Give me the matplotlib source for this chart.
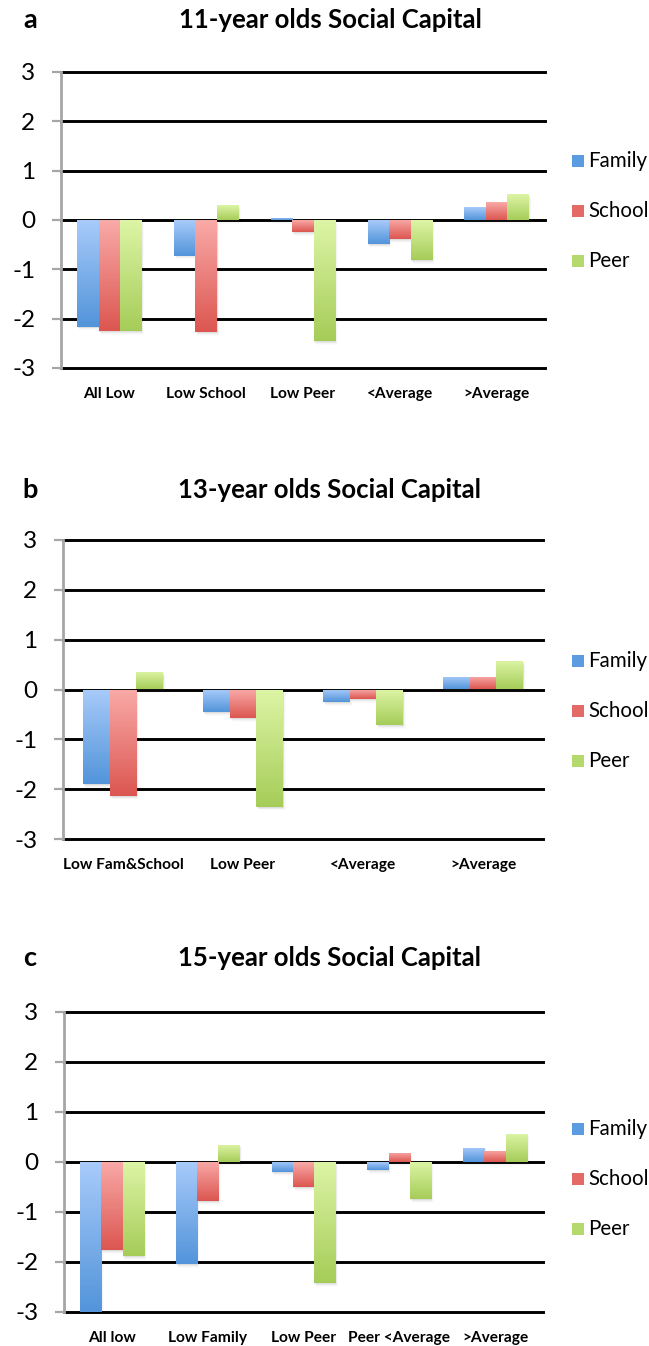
import matplotlib
matplotlib.use("Agg")
import matplotlib.pyplot as plt
import numpy as np
from matplotlib.colors import LinearSegmentedColormap
from matplotlib.patches import Rectangle

# ---------------- data ----------------
series_names = ["Family", "School", "Peer"]

cats_a = ["All Low", "Low School", "Low Peer", "<Average", ">Average"]
family_a = [-2.16, -0.72, 0.05, -0.48, 0.26]
school_a = [-2.25, -2.27, -0.24, -0.39, 0.36]
peer_a = [-2.25, 0.30, -2.45, -0.81, 0.52]

cats_b = ["Low Fam&School", "Low Peer", "<Average", ">Average"]
family_b = [-1.89, -0.46, -0.26, 0.26]
school_b = [-2.13, -0.58, -0.19, 0.26]
peer_b = [0.35, -2.35, -0.72, 0.57]

cats_c = ["All low", "Low Family", "Low Peer", "Peer <Average", ">Average"]
family_c = [-3.0, -2.05, -0.21, -0.16, 0.29]
school_c = [-1.77, -0.79, -0.50, 0.19, 0.23]
peer_c = [-1.89, 0.35, -2.43, -0.75, 0.57]

yticks = [-3, -2, -1, 0, 1, 2, 3]
titles = ["11-year olds Social Capital", "13-year olds Social Capital", "15-year olds Social Capital"]
letters = ["a", "b", "c"]

# ---------------- style ----------------
W, H = 649, 1346
plt.rcParams['font.family'] = ['Lato', 'DejaVu Sans']
fig = plt.figure(figsize=(W / 100, H / 100), dpi=100)

grad_cols = {
    "Family": ("#a8cbfa", "#5294da"),
    "School": ("#f9aaa8", "#dc5650"),
    "Peer": ("#ddf5a6", "#a6cc58"),
}
legend_cols = {"Family": "#5b9bdf", "School": "#e36a66", "Peer": "#b5d96c"}
cmaps = {k: LinearSegmentedColormap.from_list(k, [v[1], v[0]]) for k, v in grad_cols.items()}


def fy(py):
    return 1 - py / H


def fx(px):
    return px / W


def panel(left_px, right_px, top_px, bot_px, cats, vals, letter, title,
          title_py, legend_py):
    ax = fig.add_axes([fx(left_px), fy(bot_px), fx(right_px) - fx(left_px), fy(top_px) - fy(bot_px)])
    n = len(cats)
    x = np.arange(n)
    width = 0.222
    for gl in yticks:
        ax.axhline(gl, color="black", lw=2.1, zorder=1, clip_on=False)
    for si, name in enumerate(series_names):
        offs = (si - 1) * width
        bars = ax.bar(x + offs, vals[si], width=width, zorder=3, linewidth=0)
        for b in bars:
            x0 = b.get_x()
            w = b.get_width()
            y0 = b.get_y()
            h = b.get_height()
            yb, yt = min(y0, y0 + h), max(y0, y0 + h)
            # soft shadow
            for k, a in enumerate([0.08, 0.05, 0.03, 0.02]):
                d = (k + 1) * 0.012
                ax.add_patch(Rectangle((x0 + d * 0.5, yb - d * 1.6), w, yt - yb,
                                       facecolor="#444444", alpha=a, lw=0, zorder=2))
            grad = np.linspace(0, 1, 256).reshape(-1, 1)
            im = ax.imshow(grad, cmap=cmaps[name], extent=(x0, x0 + w, yb, yt),
                           origin="lower", aspect="auto", zorder=3, interpolation="bilinear")
            im.set_clip_path(b)
            b.set_facecolor("none")
    ax.set_xlim(-0.5, n - 0.5)
    ax.set_ylim(-3, 3)
    for s in ["top", "right", "bottom"]:
        ax.spines[s].set_visible(False)
    ax.spines["left"].set_color("#a6a6a6")
    ax.spines["left"].set_linewidth(2.0)
    ax.spines["left"].set_zorder(4)
    ax.set_yticks(yticks)
    ax.set_yticklabels([str(t) for t in yticks], fontsize=17.5)
    ax.tick_params(axis="y", length=6.5, width=1.6, color="#a6a6a6", pad=12)
    ax.set_xticks(x)
    ax.set_xticklabels(cats, fontsize=11.2, fontweight="bold")
    ax.tick_params(axis="x", length=0, pad=14)
    ax.patch.set_alpha(0)
    # title and letter
    fig.text(fx(330), fy(title_py), title, ha="center", va="center",
             fontsize=18.5, fontweight="bold")
    fig.text(fx(30), fy(title_py), letter, ha="center", va="center",
             fontsize=19.5, fontweight="bold")
    # legend
    for si, name in enumerate(series_names):
        py = legend_py + si * 50
        fig.patches.append(Rectangle((fx(572), fy(py + 6)), fx(12), 12 / H,
                                     transform=fig.transFigure, facecolor=legend_cols[name],
                                     lw=0, figure=fig))
        fig.text(fx(588), fy(py), name, ha="left", va="center", fontsize=14.8)
    return ax


panel(61, 545, 72, 368, cats_a, [family_a, school_a, peer_a], letters[0], titles[0], 20, 161)
panel(63, 543, 540, 839, cats_b, [family_b, school_b, peer_b], letters[1], titles[1], 490, 661)
panel(64, 543, 1012, 1312, cats_c, [family_c, school_c, peer_c], letters[2], titles[2], 958, 1129)

fig.savefig("out.png", dpi=100, facecolor="white")
